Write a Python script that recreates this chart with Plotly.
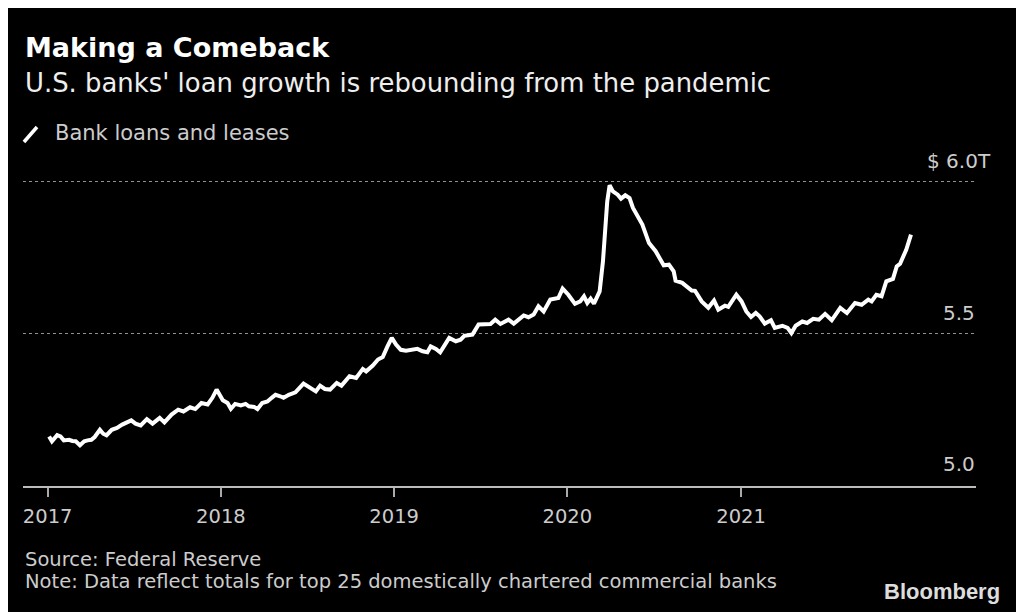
import plotly.graph_objects as go

# Weekly readings of bank loans and leases, $ trillions
dates = [
    '2017-01-04', '2017-01-10', '2017-01-21', '2017-01-28', '2017-02-04', '2017-02-15',
    '2017-02-22', '2017-03-01', '2017-03-10', '2017-03-19', '2017-03-26', '2017-04-03',
    '2017-04-10', '2017-04-21', '2017-04-28', '2017-05-05', '2017-05-16', '2017-05-27',
    '2017-06-07', '2017-06-26', '2017-07-05', '2017-07-16', '2017-07-29', '2017-08-10',
    '2017-08-25', '2017-09-04', '2017-09-19', '2017-10-03', '2017-10-14', '2017-10-28',
    '2017-11-08', '2017-11-21', '2017-12-04', '2017-12-14', '2017-12-23',
    '2018-01-05', '2018-01-15', '2018-01-22', '2018-01-31', '2018-02-12', '2018-02-22',
    '2018-03-01', '2018-03-12', '2018-03-19', '2018-03-29', '2018-04-09', '2018-04-18',
    '2018-04-26', '2018-05-06', '2018-05-13', '2018-05-24', '2018-06-07', '2018-06-24',
    '2018-07-08', '2018-07-20', '2018-07-29', '2018-08-08', '2018-08-19', '2018-09-02',
    '2018-09-12', '2018-09-29', '2018-10-13', '2018-10-27', '2018-11-03', '2018-11-17',
    '2018-11-28', '2018-12-08', '2018-12-18', '2018-12-27',
    '2019-01-05', '2019-01-15', '2019-01-26', '2019-02-09', '2019-02-19', '2019-03-02',
    '2019-03-12', '2019-03-19', '2019-03-30', '2019-04-08', '2019-04-16', '2019-04-27',
    '2019-05-11', '2019-05-21', '2019-05-29', '2019-06-15', '2019-06-28', '2019-07-09',
    '2019-07-23', '2019-08-02', '2019-08-13', '2019-08-30', '2019-09-10', '2019-10-01',
    '2019-10-11', '2019-10-22', '2019-11-01', '2019-11-12', '2019-11-26', '2019-12-13',
    '2019-12-22',
    '2020-01-03', '2020-01-17', '2020-01-28', '2020-02-05', '2020-02-12', '2020-02-19',
    '2020-02-26', '2020-03-09', '2020-03-16', '2020-03-25', '2020-03-30', '2020-04-06',
    '2020-04-16', '2020-04-23', '2020-05-02', '2020-05-11', '2020-05-18', '2020-05-28',
    '2020-06-07', '2020-06-21', '2020-07-05', '2020-07-22', '2020-08-02', '2020-08-12',
    '2020-08-16', '2020-08-30', '2020-09-12', '2020-09-19', '2020-09-26', '2020-10-10',
    '2020-10-24', '2020-11-05', '2020-11-14', '2020-11-28', '2020-12-05', '2020-12-22',
    '2021-01-02', '2021-01-12', '2021-01-22', '2021-02-01', '2021-02-09', '2021-02-20',
    '2021-03-05', '2021-03-13', '2021-03-29', '2021-04-09', '2021-04-17', '2021-04-26',
    '2021-05-10', '2021-05-20', '2021-06-02', '2021-06-14', '2021-06-27', '2021-07-11',
    '2021-07-29', '2021-08-12', '2021-08-29', '2021-09-12', '2021-09-26', '2021-10-03',
    '2021-10-13', '2021-10-24', '2021-11-03', '2021-11-17', '2021-11-25', '2021-12-02',
    '2021-12-15', '2021-12-25',
]
loans = [
    5.163, 5.147, 5.167, 5.163, 5.150, 5.152,
    5.148, 5.147, 5.134, 5.147, 5.150, 5.152,
    5.161, 5.185, 5.172, 5.167, 5.185, 5.191,
    5.202, 5.216, 5.205, 5.199, 5.220, 5.205,
    5.224, 5.209, 5.235, 5.251, 5.245, 5.259,
    5.253, 5.273, 5.268, 5.290, 5.317,
    5.282, 5.273, 5.254, 5.270, 5.265, 5.270,
    5.262, 5.260, 5.253, 5.273, 5.278, 5.290,
    5.300, 5.295, 5.290, 5.300, 5.308, 5.337,
    5.322, 5.311, 5.330, 5.319, 5.317, 5.339,
    5.330, 5.361, 5.355, 5.385, 5.377, 5.396,
    5.416, 5.424, 5.459, 5.487,
    5.465, 5.448, 5.445, 5.448, 5.451, 5.443,
    5.440, 5.459, 5.451, 5.440, 5.459, 5.487,
    5.476, 5.481, 5.494, 5.498, 5.531, 5.531,
    5.533, 5.547, 5.533, 5.547, 5.534, 5.561,
    5.555, 5.564, 5.591, 5.574, 5.613, 5.618,
    5.649,
    5.629, 5.599, 5.607, 5.624, 5.602, 5.616,
    5.600, 5.640, 5.739, 5.936, 5.989, 5.969,
    5.958, 5.945, 5.956, 5.947, 5.915, 5.887,
    5.860, 5.799, 5.772, 5.726, 5.728, 5.706,
    5.675, 5.668, 5.653, 5.643, 5.642, 5.607,
    5.586, 5.610, 5.580, 5.593, 5.589, 5.629,
    5.607, 5.574, 5.556, 5.569, 5.558, 5.534,
    5.545, 5.520, 5.527, 5.520, 5.503, 5.527,
    5.541, 5.536, 5.550, 5.547, 5.566, 5.545,
    5.586, 5.569, 5.602, 5.596, 5.613, 5.607,
    5.629, 5.624, 5.673, 5.681, 5.722, 5.731,
    5.777, 5.827,
]

year_ticks = ['2017-01-01', '2018-01-01', '2019-01-01', '2020-01-01', '2021-01-01']
year_labels = ['2017', '2018', '2019', '2020', '2021']
grid_values = [5.5, 6.0]

font_main = 'DejaVu Sans'

fig = go.Figure()
fig.add_trace(go.Scatter(
    x=dates, y=loans, mode='lines',
    line=dict(color='white', width=4),
    name='Bank loans and leases', showlegend=False,
))

# page body adds an 8px offset, so the figure is 8px smaller and margins shifted
fig.update_layout(
    width=1016, height=604,
    margin=dict(l=15, r=48, t=142, b=126),
    paper_bgcolor='black', plot_bgcolor='black',
    font=dict(family=font_main, color='#cccccc'),
    xaxis=dict(
        type='date', range=['2016-11-10', '2022-05-11'],
        tickvals=year_ticks, ticktext=year_labels,
        ticks='outside', ticklen=9, tickwidth=1.5, tickcolor='#aaaaaa',
        tickfont=dict(family=font_main, size=19.5, color='#cccccc'),
        ticklabelstandoff=3,
        showline=True, linecolor='#bbbbbb', linewidth=2,
        showgrid=False, zeroline=False,
    ),
    yaxis=dict(
        range=[5.0, 6.105], tickvals=grid_values, showticklabels=False,
        showgrid=True, gridcolor='#909090', gridwidth=1, griddash='dot',
        zeroline=False, showline=False,
    ),
)

# Titles, legend and footer
def note(text, x, y, size, color='#cccccc', anchor='left', family=font_main):
    fig.add_annotation(text=text, xref='paper', yref='paper', x=x, y=y,
                       xanchor=anchor, yanchor='middle', showarrow=False,
                       font=dict(family=family, size=size, color=color))

note('<b>Making a Comeback</b>', 0, 1.3036, 27, color='white')
note("U.S. banks' loan growth is rebounding from the pandemic", 0, 1.1994, 25.9, color='#eeeeee')
note('Bank loans and leases', 0.0315, 1.0506, 21)
note('$ 6.0T', 1.0178, 0.9658, 20, anchor='right')
note('5.5', 1.001, 0.5149, 20, anchor='right')
note('5.0', 1.001, 0.0655, 20, anchor='right')
note('Source: Federal Reserve', 0, -0.2173, 19.5)
note('Note: Data reflect totals for top 25 domestically chartered commercial banks',
     0, -0.2857, 19.5)
note('<b>Bloomberg</b>', 1.0273, -0.3125, 22, color='#dddddd', anchor='right',
     family='Liberation Sans Narrow, Liberation Sans')

# legend swatch: short diagonal white stroke
fig.add_shape(type='line', xref='paper', yref='paper',
              x0=0.001, y0=1.0238, x1=0.0147, y1=1.0685,
              line=dict(color='white', width=3.5))

fig.write_html('out.html')
